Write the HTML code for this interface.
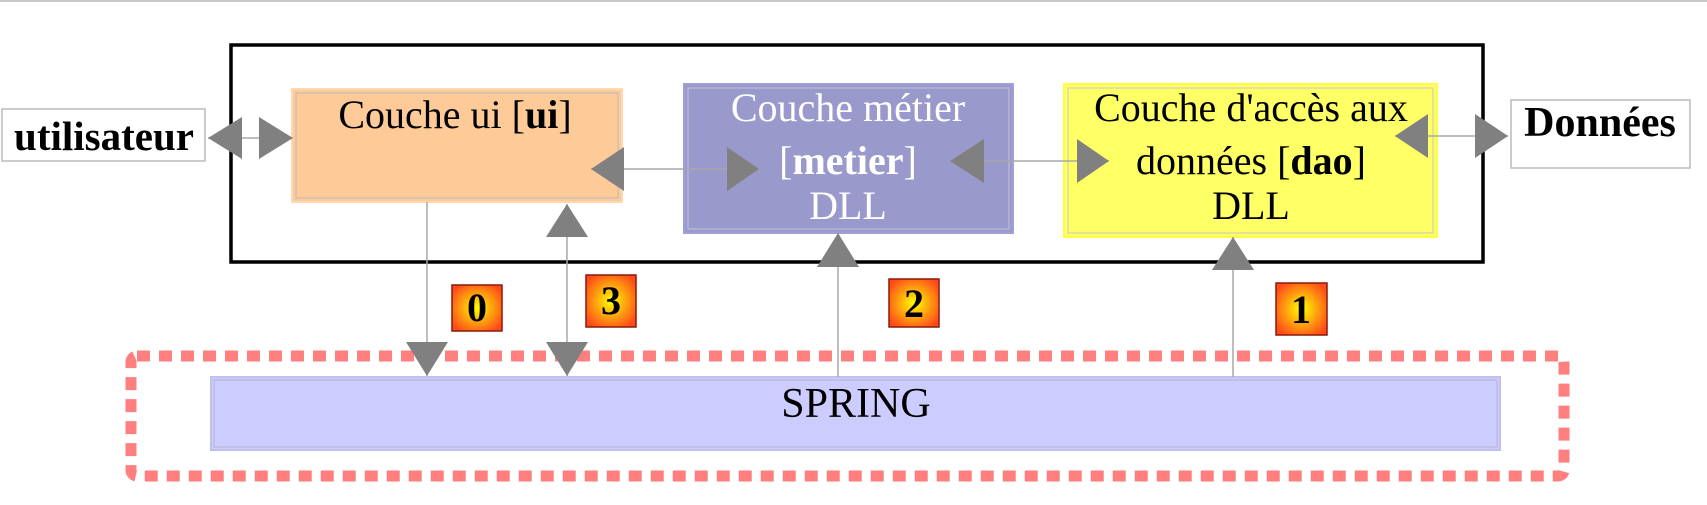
<!DOCTYPE html>
<html><head><meta charset="utf-8"><style>
html,body{margin:0;padding:0;background:#fff;}
svg{display:block;}
text{font-family:"Liberation Serif",serif;}
</style></head><body>
<svg width="1707" height="505" viewBox="0 0 1707 505" xmlns="http://www.w3.org/2000/svg">
<defs>
<radialGradient id="bg" cx="50%" cy="50%" r="60%">
<stop offset="0" stop-color="#ffff00"/>
<stop offset="1" stop-color="#ff4a1a"/>
</radialGradient>
</defs>
<line x1="0" y1="1" x2="1707" y2="1" stroke="#c8c8c8" stroke-width="2"/>
<rect x="131" y="356" width="1433" height="120" rx="6" fill="none" stroke="#ff7f7f" stroke-width="11" stroke-dasharray="13,9"/>
<rect x="211" y="377" width="1289" height="73" fill="#ccccff" stroke="#c0c0f0" stroke-width="2"/>
<rect x="214" y="380" width="1283" height="67" fill="none" stroke="#b4b4c8" stroke-width="1"/>
<text x="856" y="417" font-size="42" text-anchor="middle">SPRING</text>
<rect x="231" y="45" width="1252" height="217" fill="none" stroke="#000" stroke-width="3.5"/>
<rect x="2" y="109" width="203" height="52" fill="#fff" stroke="#bbb" stroke-width="1.5"/>
<text x="104" y="150" font-size="41" font-weight="bold" text-anchor="middle">utilisateur</text>
<rect x="1511" y="100" width="179" height="68" fill="#fff" stroke="#bbb" stroke-width="1.5"/>
<text x="1600" y="136" font-size="42" font-weight="bold" text-anchor="middle">Données</text>
<rect x="292" y="89" width="330" height="113" fill="#fecb98" stroke="#ffd8b0" stroke-width="2"/>
<rect x="296" y="93" width="322" height="105" fill="none" stroke="#b8b8c8" stroke-width="1"/>
<text x="455" y="128" font-size="40" text-anchor="middle">Couche ui [<tspan font-weight="bold">ui</tspan>]</text>
<rect x="684" y="84" width="329" height="149" fill="#9999cc" stroke="#a0a0d8" stroke-width="2"/>
<rect x="688" y="88" width="321" height="141" fill="none" stroke="#c4c4d8" stroke-width="1"/>
<g fill="#fff" font-size="40" text-anchor="middle">
<text x="848" y="121">Couche métier</text>
<text x="848" y="174">[<tspan font-weight="bold">metier</tspan>]</text>
<text x="848" y="219">DLL</text>
</g>
<rect x="1064" y="84" width="373" height="153" fill="#ffff66" stroke="#ffff40" stroke-width="2"/>
<rect x="1068" y="88" width="365" height="145" fill="none" stroke="#c4c4d0" stroke-width="1"/>
<g font-size="40" text-anchor="middle">
<text x="1251" y="121">Couche d'accès aux</text>
<text x="1251" y="174">données [<tspan font-weight="bold">dao</tspan>]</text>
<text x="1251" y="219">DLL</text>
</g>
<g stroke="#a8a8a8" stroke-width="1.5">
<line x1="208" y1="138" x2="293" y2="138"/>
<line x1="591" y1="169" x2="759" y2="169"/>
<line x1="950" y1="161" x2="1109" y2="161"/>
<line x1="1395" y1="136" x2="1508" y2="136"/>
<line x1="427" y1="202" x2="427" y2="376"/>
<line x1="567" y1="204" x2="567" y2="376"/>
<line x1="838" y1="233" x2="838" y2="377"/>
<line x1="1233" y1="237" x2="1233" y2="377"/>
</g>
<g fill="#808080">
<polygon points="208,138 242,117 242,159"/>
<polygon points="293,138 259,117 259,159"/>
<polygon points="591,169 624,147 624,191"/>
<polygon points="759,169 727,147 727,191"/>
<polygon points="950,161 984,139 984,183"/>
<polygon points="1109,161 1077,139 1077,183"/>
<polygon points="1395,136 1428,114 1428,158"/>
<polygon points="1508,136 1475,114 1475,158"/>
<polygon points="427,376 406,342 448,342"/>
<polygon points="567,376 546,342 588,342"/>
<polygon points="567,204 546,237 588,237"/>
<polygon points="838,233 817,267 859,267"/>
<polygon points="1233,237 1212,270 1254,270"/>
</g>
<g stroke="#8a1a0a" stroke-width="1.5" fill="url(#bg)">
<rect x="452" y="285" width="50" height="46"/>
<rect x="586" y="275" width="50" height="52"/>
<rect x="889" y="279" width="50" height="48"/>
<rect x="1276" y="283" width="51" height="52"/>
</g>
<g font-size="40" font-weight="bold" text-anchor="middle">
<text x="477" y="321">0</text>
<text x="611" y="314">3</text>
<text x="914" y="317">2</text>
<text x="1301" y="323">1</text>
</g>
</svg>
</body></html>
